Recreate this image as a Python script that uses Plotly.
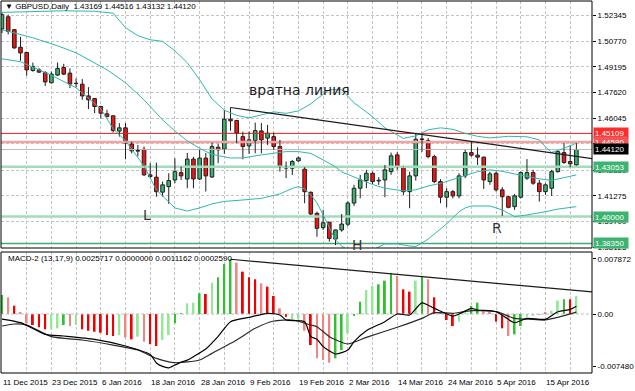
import plotly.graph_objects as go

# ---------------- data ----------------
date_labels = ["11 Dec 2015", "23 Dec 2015", "6 Jan 2016", "18 Jan 2016", "28 Jan 2016",
               "9 Feb 2016", "19 Feb 2016", "2 Mar 2016", "14 Mar 2016", "24 Mar 2016",
               "5 Apr 2016", "15 Apr 2016"]
date_label_bars = [0, 8, 16, 24, 32, 40, 48, 56, 64, 72, 80, 88]

opens = [1.5152,1.5227,1.5148,1.5040,1.5008,1.4897,1.4901,1.4884,1.4822,1.4869,
         1.4916,1.4881,1.4819,1.4813,1.4741,1.4725,1.4676,1.4631,1.4619,1.4525,
         1.4545,1.4446,1.4406,1.4413,1.4256,1.4242,1.4150,1.4184,1.4225,1.4270,
         1.4231,1.4353,1.4231,1.4359,1.4243,1.4426,1.4414,1.4598,1.4590,1.4491,
         1.4434,1.4467,1.4526,1.4482,1.4491,1.4430,1.4301,1.4297,1.4342,1.4291,
         1.4149,1.4020,1.3932,1.3965,1.3862,1.3918,1.3953,1.4083,1.4174,1.4221,
         1.4266,1.4219,1.4225,1.4276,1.4379,1.4303,1.4153,1.4250,1.4477,1.4467,
         1.4368,1.4215,1.4119,1.4153,1.4127,1.4250,1.4393,1.4377,1.4365,1.4215,
         1.4266,1.4164,1.4122,1.4061,1.4119,1.4236,1.4270,1.4205,1.4153,1.4174,
         1.4276,1.4393,1.4338,1.43169]
highs = [1.5250,1.5240,1.5151,1.5104,1.5010,1.4946,1.4912,1.4893,1.4890,1.4946,
         1.4938,1.4910,1.4848,1.4844,1.4795,1.4727,1.4680,1.4656,1.4620,1.4574,
         1.4574,1.4460,1.4440,1.4430,1.4328,1.4331,1.4215,1.4266,1.4358,1.4307,
         1.4391,1.4367,1.4410,1.4391,1.4454,1.4447,1.4656,1.4670,1.4594,1.4522,
         1.4522,1.4577,1.4574,1.4563,1.4516,1.4471,1.4338,1.4348,1.4368,1.4303,
         1.4155,1.4030,1.4041,1.3968,1.3920,1.4016,1.4094,1.4195,1.4256,1.4287,
         1.4276,1.4242,1.4317,1.4393,1.4396,1.4307,1.4276,1.4512,1.4512,1.4482,
         1.4379,1.4230,1.4174,1.4164,1.4266,1.4410,1.4460,1.4426,1.4368,1.4276,
         1.4276,1.4181,1.4124,1.4139,1.4276,1.4353,1.4287,1.4225,1.4205,1.4287,
         1.4405,1.4451,1.4440,1.44516]
lows = [1.5127,1.5119,1.5030,1.4957,1.4865,1.4890,1.4882,1.4802,1.4818,1.4863,
        1.4869,1.4789,1.4795,1.4717,1.4660,1.4635,1.4604,1.4610,1.4516,1.4491,
        1.4352,1.4388,1.4369,1.4250,1.4236,1.4122,1.4122,1.4078,1.4205,1.4225,
        1.4174,1.4174,1.4225,1.4154,1.4238,1.4328,1.4385,1.4528,1.4451,1.4352,
        1.4385,1.4389,1.4389,1.4440,1.4410,1.4276,1.4236,1.4256,1.4338,1.4082,
        1.4010,1.3876,1.3918,1.3846,1.3825,1.3907,1.3942,1.4065,1.4112,1.4174,
        1.4200,1.4195,1.4119,1.4256,1.4287,1.4133,1.4051,1.4221,1.4397,1.4358,
        1.4205,1.4082,1.4057,1.4112,1.4112,1.4236,1.4368,1.4317,1.4170,1.4195,
        1.4154,1.4004,1.4051,1.4041,1.4112,1.4225,1.4195,1.4092,1.4133,1.4127,
        1.4270,1.4324,1.4303,1.43132]
closes = [1.5240,1.5137,1.5036,1.5005,1.4901,1.4922,1.4887,1.4827,1.4875,1.4910,
          1.4875,1.4814,1.4817,1.4741,1.4717,1.4676,1.4635,1.4614,1.4528,1.4545,
          1.4451,1.4404,1.4402,1.4256,1.4246,1.4153,1.4195,1.4221,1.4276,1.4250,
          1.4353,1.4231,1.4359,1.4250,1.4430,1.4410,1.4598,1.4588,1.4512,1.4430,
          1.4471,1.4528,1.4471,1.4512,1.4430,1.4307,1.4298,1.4338,1.4360,1.4153,
          1.4016,1.3928,1.3962,1.3866,1.3918,1.3954,1.4083,1.4174,1.4225,1.4266,
          1.4215,1.4223,1.4287,1.4373,1.4303,1.4153,1.4250,1.4475,1.4473,1.4368,
          1.4215,1.4119,1.4153,1.4127,1.4250,1.4393,1.4377,1.4365,1.4225,1.4262,
          1.4164,1.4122,1.4057,1.4127,1.4270,1.4270,1.4205,1.4153,1.4195,1.4276,
          1.4399,1.4332,1.4324,1.44120]

bb_upper_bars = [0,5,10,15,18,20,22,24,26,28,30,32,34,36,38,40,42,44,46,48,50,51,53,55,57,60,62,65,67,69,71,73,75,77,79,82,85,87,88,89,90,91,93]
bb_upper_vals = [1.5254,1.5260,1.5264,1.5261,1.5249,1.5160,1.5111,1.5086,1.5076,1.5018,1.4945,1.4840,1.4723,1.4653,1.4622,1.4606,1.4625,1.4643,1.4634,1.4649,1.4692,1.4723,1.4779,1.4779,1.4699,1.4614,1.4545,1.4480,1.4496,1.4533,1.4545,1.4536,1.4511,1.4493,1.4483,1.4493,1.4490,1.4471,1.4428,1.4394,1.4407,1.4419,1.4451]
bb_mid_bars = [0,5,9,12,17,20,23,26,28,30,32,34,37,39,42,46,48,50,52,54,55,58,60,62,65,67,69,71,73,75,77,79,81,83,85,87,89,91,93]
bb_mid_vals = [1.5148,1.5098,1.5049,1.5006,1.4902,1.4822,1.4717,1.4594,1.4526,1.4465,1.4419,1.4382,1.4360,1.4360,1.4379,1.4399,1.4399,1.4388,1.4348,1.4305,1.4274,1.4225,1.4197,1.4174,1.4158,1.4164,1.4188,1.4204,1.4228,1.4253,1.4276,1.4287,1.4278,1.4262,1.4245,1.4232,1.4222,1.4240,1.4256]
bb_lower_bars = [0,3,8,12,16,18,20,23,25,28,30,32,34,36,39,42,45,47,48,49,50,51,52,53,54,55,56,58,60,62,64,66,67,68,69,70,71,72,73,74,75,76,79,81,83,85,88,90,93]
bb_lower_vals = [1.4969,1.4951,1.4868,1.4791,1.4662,1.4539,1.4465,1.4311,1.4164,1.4053,1.4034,1.4053,1.4078,1.4093,1.4102,1.4112,1.4139,1.4173,1.4184,1.4170,1.4133,1.4084,1.4010,1.3929,1.3856,1.3819,1.3795,1.3782,1.3795,1.3832,1.3832,1.3819,1.3816,1.3838,1.3862,1.3893,1.3924,1.3955,1.3992,1.4029,1.4053,1.4065,1.4065,1.4041,1.4000,1.4010,1.4030,1.4046,1.4061]

# MACD-2 histogram and lines
macd_hist = [0.00272,0.00239,0.00119,0.00019,-0.00134,-0.00157,-0.00191,-0.00219,-0.00219,-0.00205,
             -0.00157,-0.00172,-0.00157,-0.00219,-0.00239,-0.00253,-0.00267,-0.00301,-0.00315,-0.00301,
             -0.00334,-0.00363,-0.00324,-0.00396,-0.00429,-0.00458,-0.00372,-0.00301,-0.00134,0.0001,
             0.00153,0.00162,0.00296,0.00286,0.00448,0.00525,0.00716,0.00782,0.00735,0.00606,
             0.00525,0.00496,0.00439,0.00391,0.00258,0.00081,-0.0004,-0.00072,-0.00076,-0.00239,
             -0.00444,-0.00634,-0.00658,-0.00696,-0.00634,-0.00515,-0.00277,-0.0003,0.00176,0.00343,
             0.00401,0.00425,0.00477,0.00582,0.00544,0.00353,0.0032,0.00477,0.00544,0.00496,
             0.00239,0.0002,-0.00086,-0.00172,-0.0011,0.00048,0.00114,0.00162,0.00057,0.0002,
             -0.0011,-0.00205,-0.00315,-0.00291,-0.00172,-0.00038,-0.0002,-0.00014,0.0002,0.00048,
             0.00191,0.0021,0.0021,0.00257]
macd_hist_kind = list("GrRrrRRRgg" "GrgRRRRRRg" "rRgrRRggGG" "ggGRgGGGrR" "RRrRRrRggr"
                      "RrrrGGgGGg" "gGGGrRRgGr" "RrRRggGGrr" "RRrGGggrrg" "gGRg")
macd_main_bars = [0,3,7,10,15,20,24,25,26,27,28,29,30,31,33,35,37,40,43,45,46,49,50,51,52,54,56,57,59,62,64,66,68,70,73,74,76,77,80,83,85,88,90,92,93]
macd_main_vals = [-0.00072,-0.00124,-0.00291,-0.00315,-0.00363,-0.00458,-0.0058,-0.0070,-0.0075,-0.0077,-0.0073,-0.0069,-0.0066,-0.0061,-0.0050,-0.0032,-0.0011,-0.00048,0.0001,-0.00014,-0.00086,-0.0011,-0.00324,-0.0036,-0.00467,-0.00572,-0.00515,-0.00396,-0.00239,-0.0011,0.0,-0.00014,0.0016,0.00081,-0.00029,0.0,0.00081,0.00057,0.00033,-0.00124,-0.00062,-0.00076,0.00033,0.00067,0.00112]
macd_signal_bars = [0,2,4,8,13,18,22,25,28,32,34,38,41,44,47,50,51,53,56,59,64,68,70,73,76,80,83,86,88,90,93]
macd_signal_vals = [-0.00172,-0.00143,-0.00157,-0.00324,-0.00372,-0.00444,-0.00515,-0.00634,-0.00697,-0.00658,-0.00563,-0.00372,-0.00205,-0.001,-0.00086,-0.00157,-0.00181,-0.00324,-0.00429,-0.00334,-0.0019,-0.00062,0.00019,0.0001,0.00048,0.00033,-0.00062,-0.00076,-0.00086,-0.00048,0.00026]

# trend lines (bar, value) pairs
neck_bars = [37, 95.6]
neck_vals = [1.4670, 1.4356]
macd_trend_bars = [37, 95.6]
macd_trend_vals = [0.00783, 0.00315]

# horizontal levels
level_vals = [1.45109, 1.44580, 1.44120, 1.43053, 1.40000, 1.38350]
level_text = ["1.45109", "1.44580", "1.44120", "1.43053", "1.40000", "1.38350"]

price_ticks = [1.52345, 1.50770, 1.49195, 1.47620, 1.46045, 1.44470, 1.42850, 1.41275, 1.39700, 1.38125]
# 1.44470 is fully covered by the level boxes in the reference, so its label is left blank
price_tick_text = ["1.52345", "1.50770", "1.49195", "1.47620", "1.46045", "", "1.42850", "1.41275", "1.39700", "1.38125"]
macd_ticks = [0.007872, 0.0, -0.00748]
macd_tick_text = ["0.007872", "0.00", "-0.007480"]

header_text = "\u25BC GBPUSD,Daily  1.43169 1.44516 1.43132 1.44120"
macd_header = "MACD-2 (13,17,9) 0.0025717 0.0000000 0.0011162 0.0002590"

# ---------------- styling ----------------
W, H = 635, 391
ML, MR, MT, MB = 1, 34, 1, 18
PH = H - MT - MB
main_dom = [(H - MB - 248) / PH, 1.0]
macd_dom = [0.0, (H - MB - 252) / PH]
FONT_FAM = "Liberation Sans, Arial, sans-serif"
SMALL = dict(family=FONT_FAM, size=8, color="#000000")
GREEN_C, RED_C, WICK = "#3cb371", "#f01414", "#1e1e1e"
hist_colors = {"G": "#2fc12f", "g": "#93e893", "R": "#f20000", "r": "#f18585"}
x_range = [-0.16, 95.53]

fig = go.Figure()

# level lines (drawn first so candles sit on top)
level_style = [("#e81e1e", 1), ("#f4a3a3", 2.5), ("#bdbdbd", 1), ("#a3dbbb", 2.5), ("#a3dbbb", 2.5), ("#4aa878", 1.5)]
box_colors = ["#ff2b2b", "#f25555", "#000000", "#3cb371", "#3cb371", "#3cb371"]
for v, (col, w) in zip(level_vals, level_style):
    fig.add_trace(go.Scatter(x=x_range, y=[v, v], mode="lines", line=dict(color=col, width=w),
                             xaxis="x", yaxis="y", hoverinfo="skip", showlegend=False))

# candle bodies
bars_x = list(range(len(opens)))
body_base = [min(o, c) for o, c in zip(opens, closes)]
body_h = [max(abs(c - o), 0.00006) for o, c in zip(opens, closes)]
body_col = [GREEN_C if c >= o else RED_C for o, c in zip(opens, closes)]
fig.add_trace(go.Bar(x=bars_x, y=body_h, base=body_base, width=0.58,
                     marker=dict(color=body_col, line=dict(color=WICK, width=1)),
                     xaxis="x", yaxis="y", hoverinfo="skip", showlegend=False))

# wicks (outside bodies)
wx, wy = [], []
for i, (o, h, l, c) in enumerate(zip(opens, highs, lows, closes)):
    wx += [i, i, None, i, i, None]
    wy += [max(o, c), h, None, l, min(o, c), None]
fig.add_trace(go.Scatter(x=wx, y=wy, mode="lines", line=dict(color=WICK, width=1),
                         xaxis="x", yaxis="y", hoverinfo="skip", showlegend=False))

# Bollinger bands
for bx, bv in [(bb_upper_bars, bb_upper_vals), (bb_mid_bars, bb_mid_vals), (bb_lower_bars, bb_lower_vals)]:
    fig.add_trace(go.Scatter(x=bx, y=bv, mode="lines", line=dict(color="#2fb8ac", width=1),
                             xaxis="x", yaxis="y", hoverinfo="skip", showlegend=False))

# neckline
fig.add_trace(go.Scatter(x=neck_bars, y=neck_vals, mode="lines", line=dict(color="#1a1a1a", width=1.2),
                         xaxis="x", yaxis="y", hoverinfo="skip", showlegend=False))

# MACD zero line
fig.add_trace(go.Scatter(x=x_range, y=[0, 0], mode="lines", line=dict(color="#c0c0c0", width=1, dash="3px,2px"),
                         xaxis="x2", yaxis="y2", hoverinfo="skip", showlegend=False))
# MACD histogram
fig.add_trace(go.Bar(x=bars_x, y=macd_hist, width=0.3,
                     marker=dict(color=[hist_colors[k] for k in macd_hist_kind], line=dict(width=0)),
                     xaxis="x2", yaxis="y2", hoverinfo="skip", showlegend=False))
fig.add_trace(go.Scatter(x=macd_signal_bars, y=macd_signal_vals, mode="lines",
                         line=dict(color="#2a2a2a", width=1.2, shape="spline", smoothing=0.6),
                         xaxis="x2", yaxis="y2", hoverinfo="skip", showlegend=False))
fig.add_trace(go.Scatter(x=macd_main_bars, y=macd_main_vals, mode="lines",
                         line=dict(color="#000000", width=1.2, shape="spline", smoothing=0.6),
                         xaxis="x2", yaxis="y2", hoverinfo="skip", showlegend=False))
fig.add_trace(go.Scatter(x=macd_trend_bars, y=macd_trend_vals, mode="lines",
                         line=dict(color="#1a1a1a", width=1.2),
                         xaxis="x2", yaxis="y2", hoverinfo="skip", showlegend=False))

shapes = [
    dict(type="rect", xref="paper", yref="paper", x0=0, x1=1, y0=main_dom[0], y1=main_dom[1],
         line=dict(color="#000000", width=1), layer="above"),
    dict(type="rect", xref="paper", yref="paper", x0=0, x1=1, y0=macd_dom[0], y1=macd_dom[1],
         line=dict(color="#000000", width=1), layer="above"),
]

annotations = []
for v, t, bc in zip(level_vals, level_text, box_colors):
    annotations.append(dict(text=t, xref="paper", yref="y", x=1.0, y=v, xanchor="left", yanchor="middle",
                            xshift=1, showarrow=False, bgcolor=bc, borderpad=1, width=32, height=8,
                            align="left", font=dict(family=FONT_FAM, size=8, color="#ffffff")))
for b, t in zip(date_label_bars, date_labels):
    annotations.append(dict(text=t, xref="x2", yref="paper", x=b, y=-(382 - (H - MB)) / PH,
                            xanchor="left", yanchor="middle", xshift=-1, showarrow=False, font=SMALL))
annotations.append(dict(text=header_text, xref="paper", yref="paper", x=2 / 600, y=(H - MB - 7) / PH,
                        xanchor="left", yanchor="middle", showarrow=False, font=SMALL))
annotations.append(dict(text=macd_header, xref="paper", yref="paper", x=5 / 600, y=(H - MB - 258) / PH,
                        xanchor="left", yanchor="middle", showarrow=False, font=SMALL))
big = dict(family="DejaVu Sans, Verdana, sans-serif", size=14, color="#1c1c1c")
annotations.append(dict(text="вратна линия", xref="x", yref="y", x=39.6, y=1.4777,
                        xanchor="left", yanchor="middle", showarrow=False, font=big))
for t, bx, by in [("L", 23.4, 1.4010), ("H", 57.6, 1.3826), ("R", 80.1, 1.3931)]:
    annotations.append(dict(text=t, xref="x", yref="y", x=bx, y=by, xanchor="center", yanchor="middle",
                            showarrow=False, font=dict(family=big["family"], size=14, color="#3a3530")))

grid = dict(showgrid=True, gridcolor="#c4c4c4", griddash="3px,2px", gridwidth=1)
fig.update_layout(
    width=W, height=H, margin=dict(l=ML, r=MR, t=MT, b=MB),
    paper_bgcolor="#ffffff", plot_bgcolor="#ffffff", barmode="overlay", showlegend=False,
    xaxis=dict(domain=[0, 1], anchor="y", range=x_range, tickvals=list(range(0, 94, 4)),
               showticklabels=False, ticks="", zeroline=False, **grid),
    xaxis2=dict(domain=[0, 1], anchor="y2", range=x_range, tickvals=list(range(0, 94, 4)),
                showticklabels=False, ticks="", zeroline=False, **grid),
    yaxis=dict(domain=main_dom, anchor="x", side="right", range=[1.3807, 1.5324],
               tickvals=price_ticks, ticktext=price_tick_text, ticks="outside", ticklen=3,
               tickcolor="#000000", tickfont=SMALL, zeroline=False, showline=False, **grid),
    yaxis2=dict(domain=macd_dom, anchor="x2", side="right", range=[-0.00844, 0.00887],
                tickvals=macd_ticks, ticktext=macd_tick_text, ticks="outside", ticklen=3,
                tickcolor="#000000", tickfont=SMALL, zeroline=False, showgrid=False, showline=False),
    shapes=shapes, annotations=annotations,
)

fig.write_html("out.html", config={"displayModeBar": False},
               post_script="document.body.style.margin='0';document.body.style.overflow='hidden';")
